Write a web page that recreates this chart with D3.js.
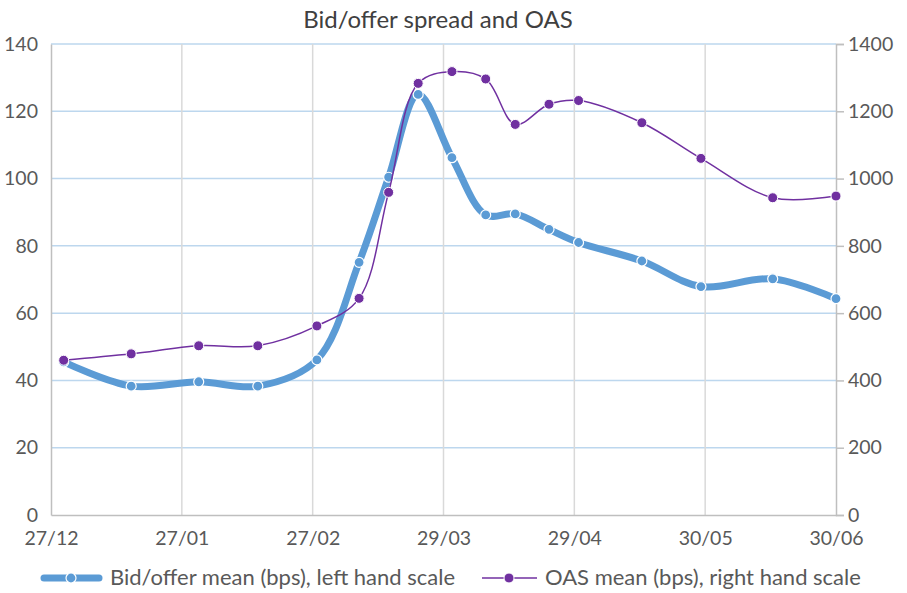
<!DOCTYPE html>
<html>
<head>
<meta charset="utf-8">
<script src="https://cdn.jsdelivr.net/npm/d3@7"></script>
<style>
  html, body { margin: 0; padding: 0; background: #fff; }
  text { font-family: Lato, "Open Sans", sans-serif; fill: #595959; }
</style>
</head>
<body>
<svg id="chart" width="907" height="593"></svg>
<script>
// ---- data ----
const dates = ["2019-12-30","2020-01-15","2020-01-31","2020-02-14","2020-02-28","2020-03-09","2020-03-16","2020-03-23","2020-03-31","2020-04-08","2020-04-15","2020-04-23","2020-04-30","2020-05-15","2020-05-29","2020-06-15","2020-06-30"];
const bidOffer = [45.5, 38.3, 39.6, 38.3, 46.1, 75.1, 100.4, 125, 106.2, 89.2, 89.5, 84.9, 81, 75.5, 67.9, 70.2, 64.3];
const oas = [460, 479, 503, 503, 562, 644, 959, 1283, 1318, 1296, 1161, 1221, 1232, 1166, 1060, 943, 948];
const xTickDates = ["2019-12-27","2020-01-27","2020-02-27","2020-03-29","2020-04-29","2020-05-30","2020-06-30"];
const xTickLabels = ["27/12","27/01","27/02","29/03","29/04","30/05","30/06"];
const leftTicks = [0, 20, 40, 60, 80, 100, 120, 140];
const rightTicks = [0, 200, 400, 600, 800, 1000, 1200, 1400];
const title = "Bid/offer spread and OAS";
const seriesNames = ["Bid/offer mean (bps), left hand scale", "OAS mean (bps), right hand scale"];

// ---- layout ----
const svg = d3.select("#chart");
const L = 51, R = 836, T = 44, B = 515;
const parse = d3.utcParse("%Y-%m-%d");
const x = d3.scaleUtc().domain([parse(xTickDates[0]), parse(xTickDates[xTickDates.length - 1])]).range([L, R]);
const yL = d3.scaleLinear().domain([0, 140]).range([B, T]);
const yR = d3.scaleLinear().domain([0, 1400]).range([B, T]);
const blue = "#5b9bd5", purple = "#7030a0";

// title
svg.append("text").attr("x", 438).attr("y", 28).attr("text-anchor", "middle")
  .style("font-size", "24px").style("fill", "#404040").text(title);

// horizontal gridlines
svg.append("g").selectAll("line").data(leftTicks.filter(d => d > 0)).join("line")
  .attr("x1", L).attr("x2", R).attr("y1", d => yL(d)).attr("y2", d => yL(d))
  .attr("stroke", "#bdd7ee").attr("stroke-width", 1.5);
// vertical gridlines
svg.append("g").selectAll("line").data(xTickDates.slice(1, -1)).join("line")
  .attr("x1", d => x(parse(d))).attr("x2", d => x(parse(d))).attr("y1", T).attr("y2", B)
  .attr("stroke", "#d9d9d9").attr("stroke-width", 1.5);

// axes
const gL = svg.append("g").attr("transform", `translate(${L},0)`)
  .call(d3.axisLeft(yL).tickValues(leftTicks).tickSize(0).tickPadding(13));
const gR = svg.append("g").attr("transform", `translate(${R},0)`)
  .call(d3.axisRight(yR).tickValues(rightTicks).tickFormat(d3.format("d")).tickSize(8).tickPadding(4));
const gB = svg.append("g").attr("transform", `translate(0,${B})`)
  .call(d3.axisBottom(x).tickValues(xTickDates.map(parse)).tickFormat((d, i) => xTickLabels[i]).tickSize(0).tickPadding(16));
[gL, gR, gB].forEach(g => {
  g.attr("font-family", null).attr("font-size", null);
  g.select(".domain").attr("stroke", "#bfbfbf").attr("stroke-width", 1.5);
  g.selectAll(".tick line").attr("stroke", "#bfbfbf").attr("stroke-width", 1.5);
  g.selectAll(".tick text").style("font-size", "19.5px").style("fill", "#595959");
});

// series
const ptsB = dates.map((d, i) => ({ x: x(parse(d)), y: yL(bidOffer[i]) }));
const ptsO = dates.map((d, i) => ({ x: x(parse(d)), y: yR(oas[i]) }));
const line = d3.line().x(d => d.x).y(d => d.y).curve(d3.curveCatmullRom.alpha(0.5));

svg.append("path").attr("d", line(ptsB)).attr("fill", "none").attr("stroke", blue)
  .attr("stroke-width", 7).attr("stroke-linejoin", "round").attr("stroke-linecap", "round");
svg.append("g").selectAll("circle").data(ptsB).join("circle")
  .attr("cx", d => d.x).attr("cy", d => d.y).attr("r", 5)
  .attr("fill", blue).attr("stroke", "#fff").attr("stroke-width", 1.2);

svg.append("path").attr("d", line(ptsO)).attr("fill", "none").attr("stroke", purple)
  .attr("stroke-width", 1.5);
svg.append("g").selectAll("circle").data(ptsO).join("circle")
  .attr("cx", d => d.x).attr("cy", d => d.y).attr("r", 5)
  .attr("fill", purple).attr("stroke", "#fff").attr("stroke-width", 1);

// legend
const lg = svg.append("g");
lg.append("line").attr("x1", 44).attr("x2", 99).attr("y1", 578).attr("y2", 578)
  .attr("stroke", blue).attr("stroke-width", 7).attr("stroke-linecap", "round");
lg.append("circle").attr("cx", 71).attr("cy", 578).attr("r", 5).attr("fill", blue).attr("stroke", "#fff").attr("stroke-width", 1.2);
lg.append("text").attr("x", 110).attr("y", 585).style("font-size", "22px").text(seriesNames[0]);
lg.append("line").attr("x1", 482).attr("x2", 537).attr("y1", 578).attr("y2", 578)
  .attr("stroke", purple).attr("stroke-width", 1.5);
lg.append("circle").attr("cx", 509).attr("cy", 578).attr("r", 5).attr("fill", purple).attr("stroke", "#fff").attr("stroke-width", 1);
lg.append("text").attr("x", 545).attr("y", 585).style("font-size", "22px").text(seriesNames[1]);
</script>
</body>
</html>
